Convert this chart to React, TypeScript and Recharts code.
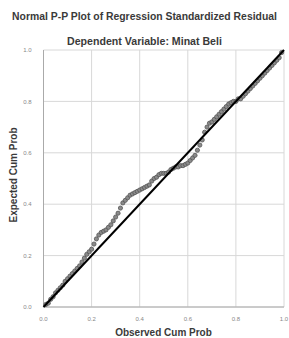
import * as React from 'react'
import {
  CartesianGrid,
  Scatter,
  ScatterChart,
  XAxis,
  YAxis,
} from 'recharts'

const observedCumProb = [
  0.01, 0.02, 0.03, 0.04, 0.05, 0.06, 0.07, 0.08, 0.09, 0.1,
  0.11, 0.12, 0.13, 0.14, 0.15, 0.16, 0.17, 0.18, 0.19, 0.2,
  0.21, 0.22, 0.23, 0.24, 0.25, 0.26, 0.27, 0.28, 0.29, 0.3,
  0.31, 0.32, 0.33, 0.34, 0.35, 0.36, 0.37, 0.38, 0.39, 0.4,
  0.41, 0.42, 0.43, 0.44, 0.45, 0.46, 0.47, 0.48, 0.49, 0.5,
  0.51, 0.52, 0.53, 0.54, 0.55, 0.56, 0.57, 0.58, 0.59, 0.6,
  0.61, 0.62, 0.63, 0.64, 0.65, 0.66, 0.67, 0.68, 0.69, 0.7,
  0.71, 0.72, 0.73, 0.74, 0.75, 0.76, 0.77, 0.78, 0.79, 0.8,
  0.81, 0.82, 0.83, 0.84, 0.85, 0.86, 0.87, 0.88, 0.89, 0.9,
  0.91, 0.92, 0.93, 0.94, 0.95, 0.96, 0.97, 0.98, 0.99,
]

const expectedCumProb = [
  0.01, 0.015, 0.03, 0.04, 0.055, 0.065, 0.075, 0.085, 0.1, 0.11,
  0.12, 0.13, 0.14, 0.15, 0.16, 0.175, 0.19, 0.205, 0.215, 0.225,
  0.245, 0.265, 0.28, 0.29, 0.295, 0.3, 0.31, 0.32, 0.335, 0.35,
  0.365, 0.385, 0.405, 0.415, 0.425, 0.435, 0.44, 0.445, 0.45, 0.455,
  0.46, 0.465, 0.47, 0.475, 0.49, 0.5, 0.505, 0.515, 0.52, 0.52,
  0.52, 0.525, 0.535, 0.54, 0.545, 0.545, 0.55, 0.55, 0.555, 0.56,
  0.57, 0.58, 0.59, 0.61, 0.63, 0.65, 0.68, 0.7, 0.715, 0.72,
  0.73, 0.74, 0.75, 0.76, 0.77, 0.78, 0.79, 0.795, 0.8, 0.8,
  0.81, 0.81, 0.82, 0.83, 0.84, 0.85, 0.86, 0.87, 0.88, 0.89,
  0.9, 0.91, 0.92, 0.93, 0.94, 0.95, 0.96, 0.97, 0.99,
]

// end points of the normal reference diagonal
const diagonalX = [0, 1]
const diagonalY = [0, 1]

const axisTicks = [0, 0.2, 0.4, 0.6, 0.8, 1.0]

const points = observedCumProb.map((x, i) => ({ x, y: expectedCumProb[i] }))
const diagonal = diagonalX.map((x, i) => ({ x, y: diagonalY[i] }))

const font = 'Liberation Sans, Arial, sans-serif'

const Dot = (props: any) => (
  <circle cx={props.cx} cy={props.cy} r={2.1} fill="#8a8a8a" stroke="#555" strokeWidth={0.8} />
)

const NoDot = () => <g />

const labelStyle: React.CSSProperties = {
  position: 'absolute',
  fontWeight: 'bold',
  color: '#3a3a3a',
  lineHeight: '12px',
  whiteSpace: 'nowrap',
}

export default function App() {
  return (
    <div style={{ position: 'absolute', left: 0, top: 0, width: 289, height: 338, background: '#fff', fontFamily: font, overflow: 'hidden' }}>
      <div style={{ ...labelStyle, top: 11, width: 289, textAlign: 'center', fontSize: 10.4 }}>
        Normal P-P Plot of Regression Standardized Residual
      </div>
      <div style={{ ...labelStyle, top: 35, width: 289, textAlign: 'center', fontSize: 10.6 }}>
        Dependent Variable: Minat Beli
      </div>
      <div
        style={{
          ...labelStyle,
          left: 14,
          top: 175,
          transform: 'translate(-50%, -50%) rotate(-90deg)',
          fontSize: 10,
        }}
      >
        Expected Cum Prob
      </div>
      <div style={{ ...labelStyle, left: 43, top: 327, width: 241, textAlign: 'center', fontSize: 10 }}>
        Observed Cum Prob
      </div>
      <ScatterChart width={289} height={338} margin={{ top: 50, right: 5, bottom: 11, left: 0 }}>
        <CartesianGrid stroke="#d8d8d8" strokeWidth={1} />
        <XAxis
          type="number"
          dataKey="x"
          domain={[0, 1]}
          ticks={axisTicks}
          tickFormatter={(v: number) => v.toFixed(1)}
          tickLine={false}
          axisLine={{ stroke: '#aaa' }}
          height={20}
          tickMargin={4}
          tick={{ fontSize: 6, fill: '#888', fontFamily: font }}
        />
        <YAxis
          type="number"
          dataKey="y"
          domain={[0, 1]}
          ticks={axisTicks}
          tickFormatter={(v: number) => v.toFixed(1)}
          tickLine={false}
          axisLine={{ stroke: '#aaa' }}
          width={43.5}
          tickMargin={6}
          tick={{ fontSize: 6, fill: '#888', fontFamily: font }}
        />
        <Scatter data={points} shape={Dot} isAnimationActive={false} />
        <Scatter
          data={diagonal}
          line={{ stroke: '#000', strokeWidth: 2 }}
          shape={NoDot}
          isAnimationActive={false}
        />
      </ScatterChart>
    </div>
  )
}
